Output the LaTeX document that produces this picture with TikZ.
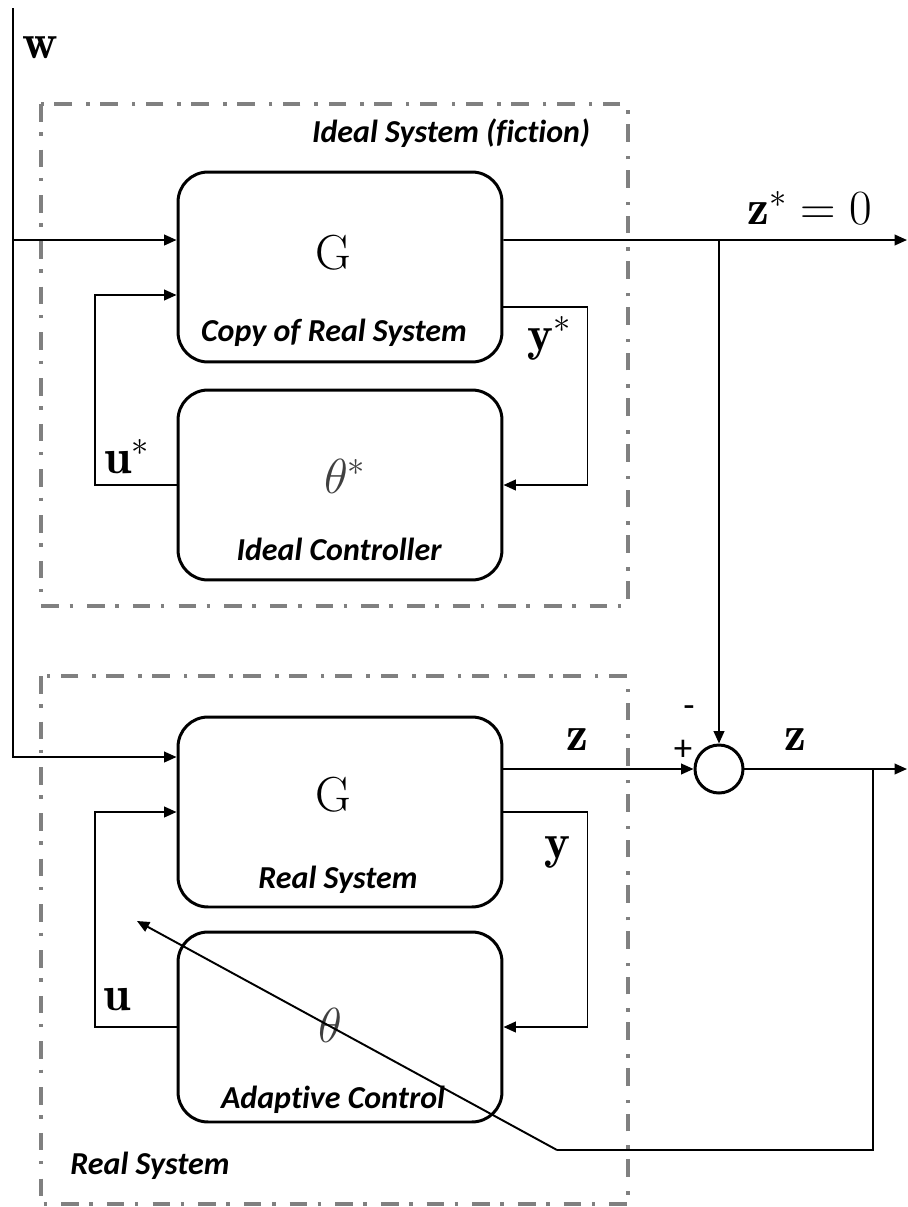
\documentclass[tikz,border=0pt]{standalone}
\usepackage{fix-cm}
\usepackage{amsmath,amssymb}
\usepackage{fontspec}
\newfontfamily\capfont{Carlito}[Ligatures=NoCommon]
\usepackage{xcolor}
\usepackage{tikz}
\usetikzlibrary{arrows.meta}

\begin{document}
\begin{tikzpicture}[x=0.02cm, y=-0.02cm,
  block/.style={draw, line width=1.7pt, rounded corners=0.6cm, minimum width=6.48cm, minimum height=3.8cm},
  sumnode/.style={draw, circle, line width=1.7pt, minimum size=0.96cm, inner sep=0pt},
  region/.style={draw=black!50, line width=2pt, dash pattern=on 10pt off 6pt on 2pt off 8pt},
  sig/.style={line width=1.1pt},
  arr/.style={sig, -{Triangle[length=7pt, width=6pt]}},
  caption/.style={font=\capfont\fontsize{18.2}{21}\selectfont\bfseries\itshape},
  sym/.style={font=\fontsize{28}{32}\selectfont, inner sep=1pt},
  pm/.style={font=\capfont\fontsize{21}{23}\selectfont, inner sep=1pt}]
  \useasboundingbox[fill=white] (0,0) rectangle (907,1207);

  % --- dash-dot regions ---
  \draw[region] (41,104) rectangle (628,606);
  \draw[region] (41,676) rectangle (628,1204);
  \node[caption] (idealtitle) at (451,133) {Ideal System (fiction)};
  \node[caption] (realtitle) at (150,1166) {Real System};

  % --- ideal system (fiction) ---
  \node[block] (Gt) at (340,267) {};
  \node[block] (Ct) at (340,485) {};
  \node[sym] (Gtlab) at (333,253) {$\mathrm{G}$};
  \node[caption] (gtcap) at (334,333) {Copy of Real System};
  \node[sym, black!75] (thslab) at (345,476) {$\theta^*$};
  \node[caption] (ctcap) at (339,549) {Ideal Controller};

  % --- real system ---
  \node[block] (Gb) at (340,812) {};
  \node[block] (Cb) at (340,1027) {};
  \node[sym] (Gblab) at (333,795) {$\mathrm{G}$};
  \node[caption] (gbcap) at (338,880) {Real System};
  \node[sym, black!75] (thlab) at (330,1025) {$\theta$};
  \node[caption] (cbcap) at (333,1100) {Adaptive Control};

  % Comparator
  \node[sumnode] (sum) at (719,769) {};
  \node[pm] (plus) at (683,750) {+};
  \node[pm] (minus) at (689,712) {-};

  % --- ports ---
  \coordinate (wtop) at (13,8);
  \coordinate (Gtw) at ([yshift=0.54cm]Gt.west);
  \coordinate (Gte) at ([yshift=0.54cm]Gt.east);
  \coordinate (Gty) at ([yshift=-0.8cm]Gt.east);
  \coordinate (Gtu) at ([yshift=-0.56cm]Gt.west);
  \coordinate (Gbw) at ([yshift=1.1cm]Gb.west);
  \coordinate (zsend) at (907,240);
  \coordinate (zend) at (907,769);
  \coordinate (tap) at (873,769);
  \coordinate (fbk) at (557,1150);
  \coordinate (fbtip) at (137,921);

  % Disturbance w
  \draw[arr] (wtop) |- (Gbw);
  \draw[arr] (wtop |- Gtw) -- (Gtw);
  \node[sym] (wlab) at (40,48) {$\mathbf{w}$};

  % Ideal loop
  \draw[arr] (Gte) -- (zsend);
  \draw[arr] (Gte -| sum) -- (sum);
  \draw[arr] (Gty) -- ++(84,0) |- (Ct.east);
  \draw[arr] (Ct.west) -- ++(-82,0) |- (Gtu);
  \node[sym] (zslab) at (810,208) {$\mathbf{z}^* = 0$};
  \node[sym] (yslab) at (550,338) {$\mathbf{y}^*$};
  \node[sym] (uslab) at (127,457) {$\mathbf{u}^*$};

  % Real loop
  \draw[arr] (Gb.east |- sum) -- (sum);
  \draw[arr] (sum) -- (zend);
  \draw[arr] (Gb.east) -- ++(84,0) |- (Cb.east);
  \draw[arr] (Cb.west) -- ++(-82,0) |- (Gb.west);
  \node[sym] (zlab) at (577,740) {$\mathbf{z}$};
  \node[sym] (z2lab) at (795,740) {$\mathbf{z}$};
  \node[sym] (ylab) at (557,852) {$\mathbf{y}$};
  \node[sym] (ulab) at (117,1000) {$\mathbf{u}$};

  % Adaptation path
  \draw[sig] (tap) |- (fbk);
  \draw[arr] (fbk) -- (fbtip);
\end{tikzpicture}
\end{document}
